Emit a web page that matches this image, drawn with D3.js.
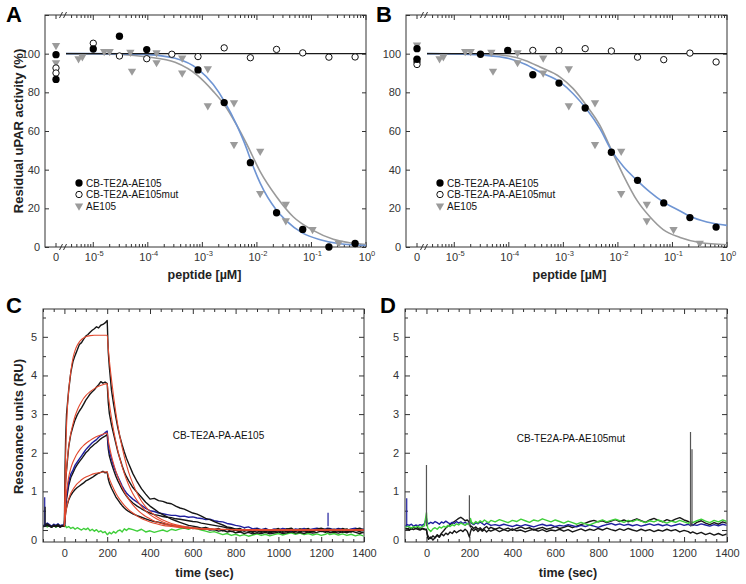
<!DOCTYPE html>
<html><head><meta charset="utf-8">
<script src="https://cdn.jsdelivr.net/npm/d3@7"></script>
<style>body{margin:0;background:#fff} svg{display:block}</style>
</head><body><svg id="fig" width="746" height="584"></svg>
<script>
// ================= DATA =================
// --- Panels A/B : dose response (x = log10 concentration in uM) ---
const zeroCat = ["0"];
const decadeExps = [-5, -4, -3, -2, -1, 0];
const drYTicks = [0, 20, 40, 60, 80, 100, 120];
const drYLabels = [0, 20, 40, 60, 80, 100];

const zeroA_black = [99.5, 86.7];
const zeroA_open = [92.6, 90.0];
const zeroA_tri = [104.3, 95.3];
const zeroB_black = [102.6, 97.1];
const zeroB_open = [95.7, 94.4];
const zeroB_tri = [104.5, 96.5];

const blackA = [[-5.0,102.4],[-4.52,109.0],[-4.02,102.1],[-3.08,91.6],[-2.6,74.7],[-2.12,43.6],[-1.64,17.7],[-1.16,9.1],[-0.68,0.0],[-0.2,1.8]];
const openA = [[-5.0,105.4],[-4.52,98.8],[-4.02,97.4],[-3.56,99.7],[-3.08,98.5],[-2.6,103.0],[-2.12,97.9],[-1.64,102.2],[-1.16,100.4],[-0.68,98.2],[-0.2,98.3]];
const blackB = [[-4.52,99.7],[-4.02,101.7],[-3.56,89.1],[-3.08,84.8],[-2.6,71.9],[-2.12,49.0],[-1.64,34.5],[-1.16,22.8],[-0.68,15.2],[-0.2,10.3]];
const openB = [[-3.56,101.7],[-3.08,101.7],[-2.6,102.6],[-2.12,101.4],[-1.64,98.2],[-1.16,96.9],[-0.68,100.3],[-0.2,95.7]];
const ae105 = [[-5.27,97.4],[-5.2,98.4],[-4.8,101.2],[-4.7,101.2],[-4.32,100.8],[-4.29,91.0],[-3.84,100.5],[-3.84,95.4],[-3.37,97.8],[-3.37,90.0],[-2.9,92.2],[-2.9,73.1],[-2.42,74.7],[-2.42,53.1],[-1.94,49.6],[-1.94,27.7],[-1.47,22.1],[-1.47,13.6],[-0.98,9.1],[-0.5,2.0]];

const refLine = [[-5.5,100],[0,100]];
const blueFitA = [[-5.5,100],[-5.0,100],[-4.5,99.9],[-4.0,99.5],[-3.5,97.6],[-3.08,92.0],[-2.8,84],[-2.59,75],[-2.37,63],[-2.19,51],[-2.12,45.5],[-1.94,33],[-1.64,19],[-1.47,13.8],[-1.16,7.2],[-0.84,3.8],[-0.48,1.7],[0,0.8]];
const grayFitA = [[-5.5,100],[-5.0,99.9],[-4.5,99.6],[-4.0,98.3],[-3.5,95.5],[-3.08,88.5],[-2.8,80.5],[-2.59,73.3],[-2.37,63],[-2.19,53.5],[-1.94,39],[-1.64,26],[-1.33,15.5],[-0.97,8.6],[-0.6,4],[-0.3,2.2],[0,1.3]];
const blueFitB = [[-5.5,100],[-5.0,99.9],[-4.5,99.3],[-4.0,97.5],[-3.7,94.5],[-3.43,90.5],[-3.06,85.3],[-2.82,79.3],[-2.58,71.5],[-2.33,61.2],[-2.13,50.5],[-1.9,41.6],[-1.65,34.5],[-1.41,28.4],[-1.17,23.3],[-0.86,18.6],[-0.69,16],[-0.37,12.9],[0,11.2]];
const grayFitB = [[-5.5,100],[-5.0,99.9],[-4.5,99.8],[-4.0,98.8],[-3.7,96.5],[-3.43,93.1],[-3.06,87.9],[-2.82,81.9],[-2.58,73.3],[-2.33,62.9],[-2.13,50.9],[-1.9,37.1],[-1.65,24.1],[-1.41,15.5],[-1.17,9.0],[-0.86,4.9],[-0.5,2.3],[0,1.2]];

const legendA = ["CB-TE2A-AE105", "CB-TE2A-AE105mut", "AE105"];
const legendB = ["CB-TE2A-PA-AE105", "CB-TE2A-PA-AE105mut", "AE105"];

// --- Panels C/D : SPR sensorgrams (time in s, RU) ---
const tMajor = [0, 200, 400, 600, 800, 1000, 1200, 1400];
const ruMajor = [0, 1, 2, 3, 4, 5];
const tC = [-100,-90,-80,-70,-60,-50,-40,-30,-20,-10,0,
  3,6,
  10,20,30,40,50,60,70,80,90,100,110,120,130,140,150,160,170,180,190,200,
  205,
  210,220,230,240,250,260,270,280,290,300,
  320,340,360,380,400,420,440,460,480,500,520,540,560,580,600,620,640,660,680,700,720,740,760,780,800,820,840,860,880,900,920,940,960,980,1000,1020,1040,1060,1080,1100,1120,1140,1160,1180,1200,
  1220,1230,1240,
  1260,1280,1300,1320,1340,1360,1380,1400];

const cBlack1 = [0.10,0.14,0.16,0.12,0.08,0.13,0.10,0.14,0.09,0.11,0.12,
  1.60,2.40,
  3.00,3.62,4.08,4.36,4.52,4.66,4.80,4.85,4.94,5.02,5.06,5.12,5.17,5.21,5.26,5.23,5.30,5.32,5.36,5.42,
  4.60,
  4.22,3.62,3.25,2.93,2.64,2.40,2.20,2.02,1.86,1.72,
  1.46,1.25,1.07,0.93,0.80,0.82,0.76,0.74,0.70,0.68,0.62,0.57,0.54,0.49,0.44,0.41,0.36,0.30,0.27,0.22,0.17,0.13,0.08,0.06,0.02,0.04,-0.02,0.01,-0.04,0.03,-0.03,0.02,-0.05,0.00,0.04,-0.03,0.02,0.05,-0.02,0.03,0.00,0.04,-0.03,0.02,0.05,
  0.01,0.03,-0.02,
  0.02,-0.03,0.04,0.00,-0.04,0.02,0.05,-0.01];
const cBlack2 = [0.08,0.10,0.12,0.10,0.07,0.11,0.09,0.12,0.08,0.10,0.10,
  0.90,1.30,
  1.55,2.15,2.48,2.68,2.85,2.98,3.08,3.16,3.26,3.36,3.44,3.52,3.58,3.63,3.70,3.76,3.84,3.80,3.83,3.79,
  3.30,
  3.02,2.72,2.48,2.25,2.02,1.84,1.66,1.50,1.38,1.28,
  1.10,0.97,0.85,0.72,0.62,0.54,0.46,0.40,0.34,0.28,0.24,0.20,0.16,0.12,0.10,0.08,0.05,0.07,0.03,0.01,0.04,-0.02,0.02,-0.04,0.00,-0.05,0.02,-0.03,-0.06,0.01,-0.04,0.02,-0.02,-0.05,0.01,-0.03,0.03,-0.01,-0.04,0.02,-0.02,0.01,-0.05,0.00,0.03,
  -0.02,0.01,0.03,
  -0.03,0.02,-0.01,0.03,-0.04,0.01,-0.02,0.02];
const cBlue = [0.12,0.14,0.18,0.14,0.10,0.15,0.12,0.16,0.11,0.13,0.12,
  0.45,0.70,
  0.88,1.25,1.45,1.55,1.68,1.76,1.84,1.92,2.00,2.08,2.14,2.20,2.26,2.30,2.34,2.40,2.44,2.47,2.52,2.56,
  2.22,
  2.04,1.84,1.65,1.50,1.38,1.26,1.14,1.04,0.96,0.90,
  0.80,0.72,0.64,0.56,0.50,0.48,0.44,0.42,0.40,0.38,0.38,0.35,0.36,0.33,0.34,0.31,0.30,0.27,0.28,0.24,0.22,0.21,0.17,0.15,0.12,0.10,0.06,0.08,0.03,0.05,0.01,0.04,-0.01,0.03,0.00,0.04,0.02,-0.02,0.03,0.01,0.04,0.00,0.03,0.05,0.02,
  0.03,0.05,0.04,
  0.01,0.04,0.02,-0.01,0.03,0.05,0.01,0.03];
const cBlack3 = [0.10,0.12,0.13,0.11,0.09,0.12,0.10,0.12,0.08,0.11,0.10,
  0.40,0.62,
  0.80,1.15,1.36,1.48,1.60,1.69,1.77,1.84,1.92,2.00,2.05,2.12,2.17,2.22,2.26,2.31,2.36,2.40,2.43,2.47,
  2.10,
  1.92,1.72,1.55,1.40,1.27,1.16,1.05,0.96,0.88,0.81,
  0.70,0.62,0.55,0.49,0.44,0.40,0.38,0.35,0.33,0.32,0.29,0.28,0.26,0.24,0.22,0.21,0.18,0.16,0.14,0.12,0.10,0.08,0.06,0.04,0.02,0.00,-0.03,-0.01,-0.05,-0.02,-0.06,-0.03,-0.07,-0.04,-0.02,-0.06,-0.03,-0.05,-0.01,-0.04,-0.02,-0.05,-0.03,0.00,-0.04,
  -0.02,-0.05,-0.01,
  -0.04,-0.02,-0.06,-0.03,-0.05,-0.01,-0.04,-0.07];
const cBlack4 = [0.09,0.10,0.12,0.10,0.08,0.11,0.09,0.11,0.08,0.10,0.10,
  0.30,0.45,
  0.58,0.78,0.90,0.98,1.05,1.10,1.14,1.18,1.22,1.27,1.30,1.33,1.36,1.40,1.44,1.47,1.49,1.52,1.48,1.50,
  1.32,
  1.22,1.08,0.97,0.86,0.78,0.70,0.63,0.57,0.52,0.48,
  0.42,0.37,0.33,0.29,0.25,0.22,0.20,0.17,0.14,0.12,0.10,0.09,0.06,0.07,0.04,0.05,0.02,0.03,0.00,0.01,-0.03,-0.01,-0.05,-0.03,-0.07,-0.05,-0.09,-0.06,-0.10,-0.07,-0.09,-0.06,-0.10,-0.08,-0.05,-0.09,-0.07,-0.04,-0.08,-0.06,-0.09,-0.05,-0.08,-0.06,-0.03,
  -0.06,-0.03,-0.07,
  -0.05,-0.08,-0.04,-0.07,-0.03,-0.06,-0.09,-0.05];
const cGreen = [0.10,0.14,0.08,0.12,0.09,0.13,0.07,0.11,0.10,0.12,0.09,
  0.12,0.10,
  0.06,0.09,0.04,0.07,0.02,0.06,0.03,0.00,0.04,0.01,0.05,-0.02,0.02,-0.03,0.01,-0.05,-0.02,-0.07,-0.04,-0.12,
  -0.10,
  -0.06,-0.10,-0.04,-0.08,-0.02,0.00,-0.05,0.03,-0.01,0.04,
  0.01,-0.03,0.02,-0.05,-0.02,-0.06,-0.03,0.00,-0.04,0.02,-0.01,0.03,0.05,0.02,0.06,0.03,0.00,-0.03,-0.06,-0.04,-0.08,-0.12,-0.09,-0.14,-0.11,-0.15,-0.12,-0.16,-0.13,-0.10,-0.14,-0.11,-0.15,-0.12,-0.09,-0.13,-0.10,-0.07,-0.11,-0.08,-0.12,-0.09,-0.13,-0.10,-0.14,
  -0.11,-0.08,-0.12,
  -0.09,-0.13,-0.10,-0.14,-0.11,-0.15,-0.12,-0.16];

const cRed1 = [[0,0.1],[3,1.2],[6,2.0],[10,2.7],[15,3.25],[20,3.6],[30,4.1],[40,4.45],[50,4.65],[60,4.78],[70,4.87],[80,4.93],[90,4.97],[100,5.0],[120,5.03],[140,5.04],[200,5.04],[205,4.7],[210,4.4],[220,3.9],[230,3.45],[240,3.05],[250,2.7],[260,2.4],[280,1.9],[300,1.5],[320,1.2],[340,0.95],[360,0.75],[380,0.6],[400,0.48],[430,0.35],[460,0.26],[500,0.17],[550,0.1],[600,0.06],[700,0.02],[800,0.01],[1000,0],[1400,0]];
const cRed2 = [[0,0.1],[3,0.7],[6,1.15],[10,1.55],[15,1.9],[20,2.15],[30,2.5],[40,2.75],[50,2.95],[60,3.1],[70,3.22],[80,3.32],[90,3.41],[100,3.48],[120,3.58],[140,3.66],[160,3.72],[180,3.76],[200,3.79],[205,3.5],[210,3.28],[220,2.9],[230,2.58],[240,2.3],[250,2.05],[260,1.83],[280,1.46],[300,1.17],[320,0.94],[340,0.76],[360,0.61],[380,0.49],[400,0.4],[430,0.29],[460,0.21],[500,0.14],[550,0.08],[600,0.05],[700,0.02],[800,0.01],[1000,0],[1400,0]];
const cRed3 = [[0,0.1],[3,0.45],[6,0.72],[10,0.98],[15,1.2],[20,1.37],[30,1.6],[40,1.76],[50,1.88],[60,1.98],[70,2.06],[80,2.13],[90,2.19],[100,2.24],[120,2.32],[140,2.39],[160,2.44],[180,2.48],[200,2.51],[205,2.32],[210,2.17],[220,1.92],[230,1.71],[240,1.53],[250,1.37],[260,1.23],[280,0.99],[300,0.8],[320,0.65],[340,0.53],[360,0.43],[380,0.35],[400,0.29],[430,0.21],[460,0.16],[500,0.11],[550,0.07],[600,0.04],[700,0.02],[800,0.01],[1000,0],[1400,0]];
const cRed4 = [[0,0.1],[3,0.28],[6,0.42],[10,0.56],[15,0.7],[20,0.8],[30,0.95],[40,1.05],[50,1.13],[60,1.2],[70,1.25],[80,1.3],[90,1.34],[100,1.37],[120,1.42],[140,1.46],[160,1.48],[180,1.5],[200,1.51],[205,1.41],[210,1.33],[220,1.19],[230,1.07],[240,0.96],[250,0.86],[260,0.78],[280,0.64],[300,0.53],[320,0.44],[340,0.36],[360,0.3],[380,0.25],[400,0.21],[430,0.16],[460,0.12],[500,0.09],[550,0.06],[600,0.04],[700,0.02],[800,0.01],[1000,0],[1400,0]];
const cSpikes = [[-92,0.85,"blue"],[-90,0.6,"black"],[1232,0.45,"blue"]];

const dBlue = [0.10,0.14,0.12,0.15,0.10,0.13,0.11,0.14,0.12,0.16,0.30,
  0.20,0.18,
  0.16,0.20,0.17,0.22,0.19,0.15,0.21,0.18,0.23,0.19,0.16,0.20,0.17,0.22,0.18,0.21,0.17,0.20,0.16,0.19,
  0.22,
  0.18,0.14,0.19,0.16,0.21,0.17,0.13,0.18,0.15,0.12,
  0.14,0.11,0.15,0.12,0.09,0.13,0.10,0.14,0.11,0.08,0.12,0.15,0.11,0.13,0.09,0.12,0.10,0.14,0.11,0.08,0.12,0.09,0.13,0.10,0.07,0.11,0.14,0.17,0.13,0.16,0.12,0.15,0.11,0.14,0.10,0.13,0.16,0.12,0.15,0.11,0.14,0.10,0.13,0.16,0.12,
  0.15,0.11,0.14,
  0.12,0.16,0.13,0.10,0.14,0.11,0.15,0.12];
const dGreen = [0.06,0.10,0.08,0.05,0.09,0.07,0.10,0.06,0.09,0.11,0.45,
  0.15,0.05,
  0.02,-0.04,0.03,0.06,0.02,0.08,0.05,0.10,0.07,0.12,0.09,0.14,0.11,0.16,0.13,0.18,0.15,0.12,0.17,0.14,
  0.30,
  0.20,0.16,0.22,0.18,0.24,0.20,0.26,0.22,0.19,0.25,
  0.21,0.27,0.23,0.19,0.25,0.22,0.28,0.24,0.20,0.26,0.23,0.29,0.25,0.21,0.26,0.22,0.18,0.23,0.19,0.15,0.20,0.16,0.13,0.18,0.22,0.26,0.21,0.25,0.28,0.24,0.20,0.25,0.22,0.27,0.23,0.19,0.24,0.21,0.26,0.22,0.18,0.23,0.20,0.25,0.21,
  0.17,0.22,0.19,
  0.24,0.28,0.23,0.19,0.25,0.21,0.26,0.22];
const dBlack1 = [0.05,0.02,0.06,0.03,0.07,0.04,0.06,0.02,0.05,0.03,0.00,
  -0.08,-0.14,
  -0.18,-0.22,-0.15,-0.20,-0.12,-0.17,-0.08,-0.02,0.05,0.10,0.14,0.18,0.22,0.26,0.30,0.33,0.29,0.24,0.26,0.20,
  0.08,
  0.10,0.04,0.08,0.02,0.06,0.00,0.05,0.09,0.03,0.07,
  0.02,0.06,0.01,0.05,-0.01,0.04,0.08,0.03,0.06,0.00,0.04,0.07,0.02,0.05,0.09,0.04,0.07,0.11,0.06,0.10,0.14,0.18,0.22,0.25,0.21,0.24,0.19,0.23,0.27,0.22,0.26,0.21,0.25,0.29,0.24,0.20,0.26,0.30,0.25,0.21,0.27,0.23,0.28,0.32,0.26,
  0.22,0.18,0.12,
  0.20,0.24,0.18,0.14,0.19,0.15,0.21,0.17];
const dBlack2 = [0.02,0.04,0.00,0.03,0.01,0.04,0.02,0.00,0.03,0.01,0.02,
  -0.12,-0.20,
  -0.24,-0.18,-0.26,-0.20,-0.14,-0.19,-0.10,-0.15,-0.08,-0.12,-0.05,-0.09,-0.02,-0.07,-0.03,0.00,-0.04,0.02,-0.03,-0.18,
  -0.05,
  0.04,-0.02,0.03,-0.04,0.02,-0.03,0.01,-0.05,0.00,-0.03,
  0.02,-0.04,0.01,-0.03,0.03,-0.02,0.00,-0.05,-0.01,0.02,-0.03,0.01,-0.04,0.00,-0.02,0.02,-0.03,0.01,-0.05,-0.01,0.03,-0.02,0.02,-0.01,0.04,0.00,0.05,0.01,-0.02,0.03,-0.01,0.04,0.00,-0.03,0.02,-0.02,0.01,-0.04,0.00,-0.03,0.02,-0.02,0.01,-0.05,-0.01,
  -0.04,-0.08,-0.05,
  -0.10,-0.06,-0.12,-0.08,-0.13,-0.09,-0.14,-0.10];
const dSpikes = [[-92,0.82,"blue"],[0,1.68,"gray"],[200,0.90,"gray"],[1230,2.54,"gray"],[1237,2.09,"gray"]];

const noteC = [720, 2.45, "CB-TE2A-PA-AE105"];
const noteD = [673, 2.36, "CB-TE2A-PA-AE105mut"];

// ================= DRAWING =================
const FONT = "'Liberation Sans', Arial, Helvetica, sans-serif";
const TXT = "#333";
const svg = d3.select("#fig").attr("font-family", FONT);
const COL = {black: "#161616", blue: "#1f1f9e", green: "#3fcf3a", red: "#e2492f", gray: "#555",
             fitBlue: "#6f95d3", fitGray: "#9a9a9a", tri: "#9b9b9b"};
const intFmt = d3.format("d");

function styleAxis(g) {
  g.attr("font-family", FONT).attr("font-size", 11);
  g.select(".domain").remove();
  g.selectAll(".tick line").attr("stroke", "#333");
  g.selectAll(".tick text").attr("fill", TXT);
  return g;
}

function frame(g, b) {
  g.append("rect").attr("x", b.l).attr("y", b.t).attr("width", b.r - b.l).attr("height", b.b - b.t)
    .attr("fill", "none").attr("stroke", "#333").attr("stroke-width", 1);
}

const sym = {
  black: d3.symbol().type(d3.symbolCircle).size(42)(),
  open: d3.symbol().type(d3.symbolCircle).size(32)(),
  tri: d3.symbol().type(d3.symbolTriangle).size(30)()
};
function marker(sel, kind) {
  if (kind === "black") sel.attr("d", sym.black).attr("fill", "#000");
  else if (kind === "open") sel.attr("d", sym.open).attr("fill", "#fff").attr("stroke", "#111").attr("stroke-width", 1);
  else sel.attr("d", sym.tri).attr("fill", COL.tri);
}

function dosePanel(p) {
  const b = p.box;
  const g = svg.append("g");
  const x = d3.scaleLog().domain([Math.pow(10, -5.5), 1]).range([b.l + 21, b.r]);
  const x0 = d3.scalePoint().domain(zeroCat).range([b.l, b.l + 22]).padding(0.5);
  const y = d3.scaleLinear().domain([0, 120]).range([b.b, b.t]);
  const lx = d => x(Math.pow(10, d));

  frame(g, b);
  styleAxis(g.append("g").attr("transform", `translate(${b.l},0)`)
    .call(d3.axisLeft(y).tickValues(drYTicks).tickSizeInner(-4).tickSizeOuter(0).tickPadding(5)
      .tickFormat(d => drYLabels.includes(d) ? d : "")));
  styleAxis(g.append("g").attr("transform", `translate(${b.r},0)`)
    .call(d3.axisRight(y).tickValues(drYTicks).tickSizeInner(-4).tickSizeOuter(0).tickFormat("")));

  const lt = x.ticks();
  const isMajor = d => Math.abs(Math.log10(d) - Math.round(Math.log10(d))) < 1e-6;
  [[b.b, -1], [b.t, 1]].forEach(([yy, dir]) => {
    g.append("g").selectAll("line").data(lt).join("line")
      .attr("x1", d => x(d)).attr("x2", d => x(d)).attr("y1", yy)
      .attr("y2", d => yy + dir * (isMajor(d) ? 5 : 3)).attr("stroke", "#333");
    g.append("g").selectAll("line").data(zeroCat).join("line")
      .attr("x1", d => x0(d)).attr("x2", d => x0(d)).attr("y1", yy).attr("y2", yy + dir * 4).attr("stroke", "#333");
    const xb = b.l + 18.5;
    g.append("path").attr("d", `M${xb - 4},${yy + 3}L${xb - 1},${yy - 3}M${xb},${yy + 3}L${xb + 3},${yy - 3}`)
      .attr("stroke", "#333").attr("stroke-width", 1).attr("fill", "none");
  });
  g.append("g").selectAll("text").data(zeroCat).join("text")
    .attr("x", d => x0(d)).attr("y", b.b + 14).attr("text-anchor", "middle")
    .attr("font-size", 11).attr("fill", TXT).text(d => d);
  const dl = g.append("g").selectAll("text").data(decadeExps).join("text")
    .attr("x", d => lx(d) + 1).attr("y", b.b + 14).attr("text-anchor", "middle")
    .attr("font-size", 11).attr("fill", TXT);
  dl.append("tspan").text("10");
  dl.append("tspan").attr("dy", -5).attr("font-size", 7.5).text(d => d === 0 ? "0" : "-" + Math.abs(d));

  const line = d3.line().x(d => lx(d[0])).y(d => y(d[1])).curve(d3.curveMonotoneX);
  g.append("path").datum(p.grayFit).attr("d", line).attr("fill", "none").attr("stroke", COL.fitGray).attr("stroke-width", 1.6);
  g.append("path").datum(p.blueFit).attr("d", line).attr("fill", "none").attr("stroke", COL.fitBlue).attr("stroke-width", 1.6);
  g.append("path").datum(refLine).attr("d", line).attr("fill", "none").attr("stroke", "#1a1a1a").attr("stroke-width", 1.4);

  const pts = g.append("g");
  pts.selectAll(".tri").data(ae105).join("path").attr("class", "tri")
    .attr("transform", d => `translate(${lx(d[0])},${y(d[1])}) rotate(180)`).call(marker, "tri");
  pts.selectAll(".tri0").data(p.zeroTri).join("path").attr("class", "tri0")
    .attr("transform", d => `translate(${x0("0")},${y(d)}) rotate(180)`).call(marker, "tri");
  pts.selectAll(".op").data(p.open).join("path").attr("class", "op")
    .attr("transform", d => `translate(${lx(d[0])},${y(d[1])})`).call(marker, "open");
  pts.selectAll(".op0").data(p.zeroOpen).join("path").attr("class", "op0")
    .attr("transform", d => `translate(${x0("0")},${y(d)})`).call(marker, "open");
  pts.selectAll(".bk").data(p.black).join("path").attr("class", "bk")
    .attr("transform", d => `translate(${lx(d[0])},${y(d[1])})`).call(marker, "black");
  pts.selectAll(".bk0").data(p.zeroBlack).join("path").attr("class", "bk0")
    .attr("transform", d => `translate(${x0("0")},${y(d)})`).call(marker, "black");

  const kinds = ["black", "open", "tri"];
  const lg = g.append("g").attr("transform", `translate(${b.l + 34},${b.t + 168})`);
  const rows = lg.selectAll("g").data(p.legend).join("g").attr("transform", (d, i) => `translate(0,${i * 11.5})`);
  rows.append("path").each(function (d, i) {
    d3.select(this).call(marker, kinds[i]).attr("transform", kinds[i] === "tri" ? "rotate(180)" : null);
  });
  rows.append("text").attr("x", 7).attr("dy", "0.35em").attr("font-size", 10).attr("fill", "#111").text(d => d);

  g.append("text").attr("x", (b.l + b.r) / 2 + p.xTitleShift).attr("y", b.b + 32).attr("text-anchor", "middle")
    .attr("font-size", 12.5).attr("font-weight", "bold").attr("fill", "#222").text("peptide [\u00B5M]");
  if (p.yTitle) g.append("text").attr("transform", `translate(18,${(b.t + b.b) / 2}) rotate(-90)`)
    .attr("text-anchor", "middle").attr("dy", "0.35em").attr("font-size", 13).attr("font-weight", "bold").attr("fill", "#222").text(p.yTitle);
  g.append("text").attr("x", p.letterX).attr("y", 22).attr("font-size", 22).attr("font-weight", "bold").attr("fill", "#000").text(p.letter);
}

function sprPanel(p) {
  const b = p.box;
  const g = svg.append("g");
  const x = d3.scaleLinear().domain([-100, 1400]).range([b.l, b.r]);
  const y = d3.scaleLinear().domain([-0.31, 5.72]).range([b.b, b.t]);
  frame(g, b);
  const ruMinor = y.ticks(12).filter(d => !ruMajor.includes(d));
  const tMinor = x.ticks(30).filter(d => !tMajor.includes(d));
  const ya = styleAxis(g.append("g").attr("transform", `translate(${b.l},0)`)
    .call(d3.axisLeft(y).tickValues(ruMajor).tickFormat(intFmt).tickSizeInner(-5).tickSizeOuter(0).tickPadding(6)));
  ya.selectAll(".tick text").filter(d => d === 0).attr("dy", "1.2em");
  styleAxis(g.append("g").attr("transform", `translate(${b.l},0)`)
    .call(d3.axisLeft(y).tickValues(ruMinor).tickSizeInner(-3).tickSizeOuter(0).tickFormat("")));
  styleAxis(g.append("g").attr("transform", `translate(${b.r},0)`)
    .call(d3.axisRight(y).tickValues(ruMajor).tickSizeInner(-5).tickSizeOuter(0).tickFormat("")));
  styleAxis(g.append("g").attr("transform", `translate(${b.r},0)`)
    .call(d3.axisRight(y).tickValues(ruMinor).tickSizeInner(-3).tickSizeOuter(0).tickFormat("")));
  styleAxis(g.append("g").attr("transform", `translate(0,${b.b})`)
    .call(d3.axisBottom(x).tickValues(tMajor).tickFormat(intFmt).tickSizeInner(-5).tickSizeOuter(0).tickPadding(7)));
  styleAxis(g.append("g").attr("transform", `translate(0,${b.b})`)
    .call(d3.axisBottom(x).tickValues(tMinor).tickSizeInner(-3).tickSizeOuter(0).tickFormat("")));
  styleAxis(g.append("g").attr("transform", `translate(0,${b.t})`)
    .call(d3.axisTop(x).tickValues(tMajor).tickSizeInner(-5).tickSizeOuter(0).tickFormat("")));
  styleAxis(g.append("g").attr("transform", `translate(0,${b.t})`)
    .call(d3.axisTop(x).tickValues(tMinor).tickSizeInner(-3).tickSizeOuter(0).tickFormat("")));

  const cid = "clip" + p.letter;
  g.append("clipPath").attr("id", cid).append("rect").attr("x", b.l + 0.5).attr("y", b.t + 0.5)
    .attr("width", b.r - b.l - 1).attr("height", b.b - b.t - 1);
  const pg = g.append("g").attr("clip-path", `url(#${cid})`);
  const line = d3.line().x(d => x(d[0])).y(d => y(d[1]));
  const pairs = vals => vals.map((v, i) => [tC[i], v]).filter(d => d[0] !== undefined);
  p.traces.forEach(tr => {
    pg.append("path").datum(pairs(tr.v)).attr("d", line).attr("fill", "none")
      .attr("stroke", COL[tr.c]).attr("stroke-width", 1.4).attr("stroke-linejoin", "round");
  });
  pg.selectAll(".spike").data(p.spikes).join("line").attr("class", "spike")
    .attr("x1", d => x(d[0])).attr("x2", d => x(d[0])).attr("y1", y(0.1)).attr("y2", d => y(d[1]))
    .attr("stroke", d => COL[d[2]]).attr("stroke-width", 1.2);
  const fitLine = d3.line().x(d => x(d[0])).y(d => y(d[1])).curve(d3.curveMonotoneX);
  (p.fits || []).forEach(f => {
    pg.append("path").datum(f).attr("d", fitLine).attr("fill", "none")
      .attr("stroke", COL.red).attr("stroke-width", 1.1);
  });

  g.append("text").attr("x", x(p.note[0])).attr("y", y(p.note[1])).attr("dy", "0.35em").attr("text-anchor", "middle")
    .attr("font-size", 10).attr("fill", "#111").text(p.note[2]);
  g.append("text").attr("x", (b.l + b.r) / 2 + p.xTitleShift).attr("y", b.b + 35).attr("text-anchor", "middle")
    .attr("font-size", 12.5).attr("font-weight", "bold").attr("fill", "#222").text("time (sec)");
  if (p.yTitle) g.append("text").attr("transform", `translate(18,${(b.t + b.b) / 2 + 1}) rotate(-90)`)
    .attr("text-anchor", "middle").attr("dy", "0.35em").attr("font-size", 13).attr("font-weight", "bold").attr("fill", "#222").text(p.yTitle);
  g.append("text").attr("x", p.letterX).attr("y", 313).attr("font-size", 22).attr("font-weight", "bold").attr("fill", "#000").text(p.letter);
}

dosePanel({letter: "A", letterX: 6, box: {l: 45, r: 366, t: 15, b: 247}, yTitle: "Residual uPAR activity (%)", xTitleShift: -1,
  black: blackA, open: openA, zeroBlack: zeroA_black, zeroOpen: zeroA_open, zeroTri: zeroA_tri,
  blueFit: blueFitA, grayFit: grayFitA, legend: legendA});
dosePanel({letter: "B", letterX: 376, box: {l: 406, r: 727, t: 15, b: 247}, yTitle: null, xTitleShift: 3,
  black: blackB, open: openB, zeroBlack: zeroB_black, zeroOpen: zeroB_open, zeroTri: zeroB_tri,
  blueFit: blueFitB, grayFit: grayFitB, legend: legendB});

sprPanel({letter: "C", letterX: 6, box: {l: 43, r: 364, t: 309, b: 542}, yTitle: "Resonance units (RU)", xTitleShift: 1,
  traces: [{v: cGreen, c: "green"}, {v: cBlack4, c: "black"}, {v: cBlack3, c: "black"}, {v: cBlue, c: "blue"},
           {v: cBlack2, c: "black"}, {v: cBlack1, c: "black"}],
  spikes: cSpikes, fits: [cRed1, cRed2, cRed3, cRed4], note: noteC});
sprPanel({letter: "D", letterX: 380, box: {l: 405, r: 727, t: 309, b: 542}, yTitle: null, xTitleShift: 2,
  traces: [{v: dBlack2, c: "black"}, {v: dBlack1, c: "black"}, {v: dBlue, c: "blue"}, {v: dGreen, c: "green"}],
  spikes: dSpikes, fits: [], note: noteD});
</script></body></html>
